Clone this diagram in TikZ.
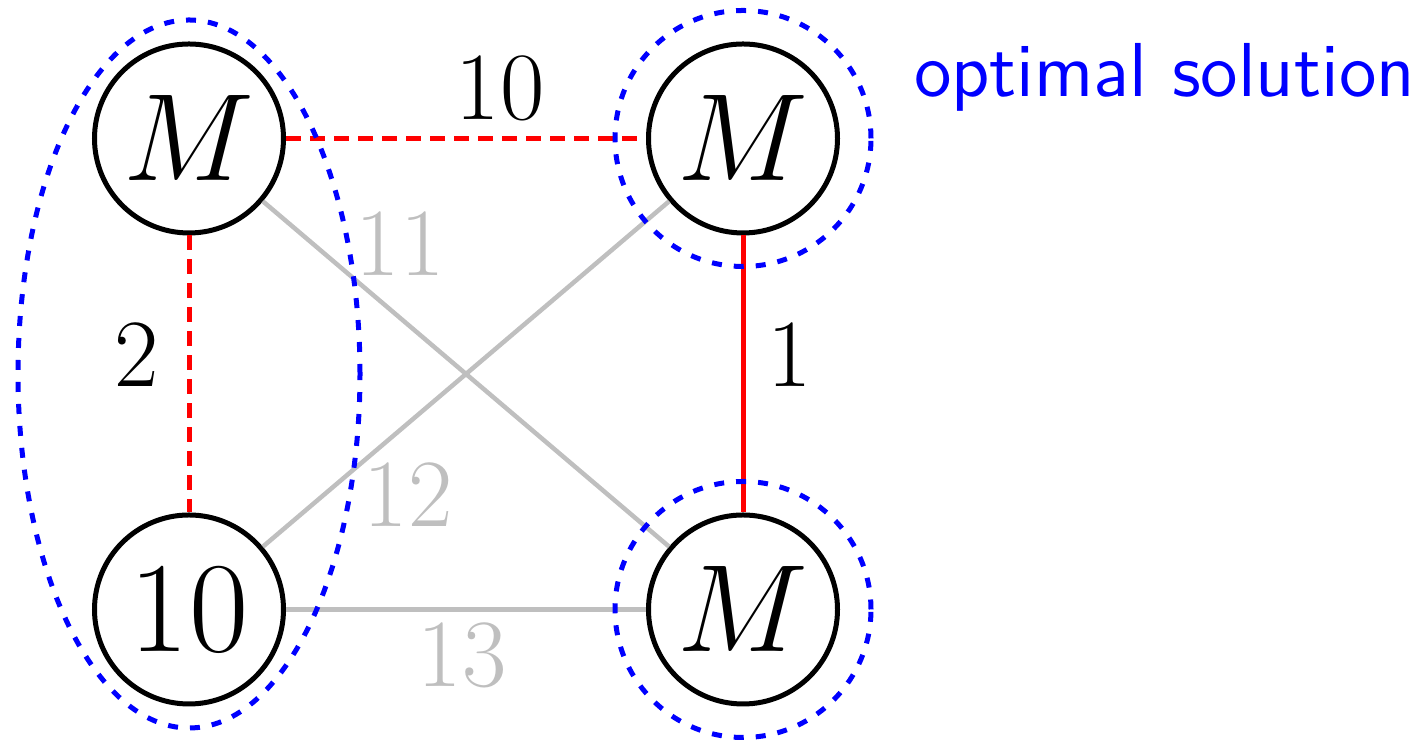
\documentclass[tikz,border=0pt]{standalone}
\usetikzlibrary{calc}
\begin{document}
\begin{tikzpicture}[x=0.2pt,y=-0.2pt,
  vtx/.style={circle,draw=black,line width=1pt,minimum size=37.8pt,inner sep=0pt,font=\fontsize{25.8}{30}\selectfont},
  lbl/.style={font=\fontsize{19.3}{23}\selectfont,inner sep=0pt},
  grp/.style={draw=blue,line width=1pt,dash pattern=on 2pt off 2.4pt},
  sel/.style={draw=red,line width=1pt},
  seld/.style={sel,dash pattern=on 3pt off 1.8pt},
  oth/.style={draw=black!25,line width=0.9pt}]
\useasboundingbox (0,0) rectangle (1428,741);
\node[vtx] (tl) at (189,138.5) {$M$};
\node[vtx] (tr) at (743,138.5) {$M$};
\node[vtx] (bl) at (189,609.5) {10};
\node[vtx] (br) at (743,609.5) {$M$};
% other edges
\draw[oth] (tl) -- (br);
\draw[oth] (bl) -- (tr);
\draw[oth] (bl) -- (br);
% selected edges
\draw[seld] (tl) -- (tr);
\draw[seld] (tl) -- (bl);
\draw[sel] (tr) -- (br);
% labels
\node[lbl] (l10) at (500,88) {10};
\node[lbl] (l2) at (137,355) {2};
\node[lbl] (l1) at (790,355) {1};
\node[lbl,text=black!25] (l11) at (400,244) {11};
\node[lbl,text=black!25] (l12) at (408,495) {12};
\node[lbl,text=black!25] (l13) at (462,655) {13};
% groups
\coordinate (lc) at ($(tl)!0.5!(bl)$);
\draw[grp] (lc) ellipse[x radius=34.2pt,y radius=70.8pt];
\draw[grp] (tr) circle[radius=25.6pt];
\draw[grp] (br) circle[radius=25.6pt];
\node[anchor=base west,text=blue,inner sep=0pt,font=\sffamily\fontsize{15.3}{18}\selectfont] (os) at (913,97) {optimal solution};
\end{tikzpicture}
\end{document}
